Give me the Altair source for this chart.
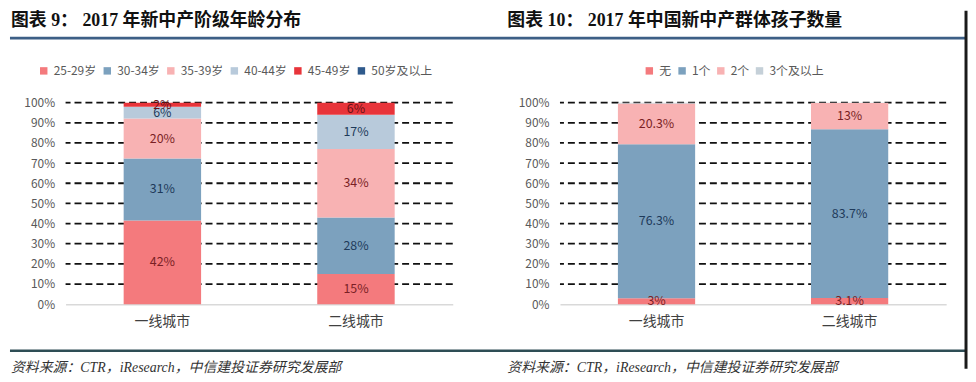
import altair as alt
import pandas as pd

# ---------------- data ----------------
cities = ["一线城市", "二线城市"]

age_groups = ["25-29岁", "30-34岁", "35-39岁", "40-44岁", "45-49岁", "50岁及以上"]
age_tier1 = [42, 31, 20, 6, 2, 0]
age_tier2 = [15, 28, 34, 17, 6, 0]

kid_groups = ["无", "1个", "2个", "3个及以上"]
kid_tier1 = [3, 76.3, 20.3, 0.4]
kid_tier2 = [3.1, 83.7, 13, 0.2]

y_ticks = [0, 0.1, 0.2, 0.3, 0.4, 0.5, 0.6, 0.7, 0.8, 0.9, 1.0]
grid_vals = [0.1, 0.2, 0.3, 0.4, 0.5, 0.6, 0.7, 0.8, 0.9, 1.0]

title_left = "图表 9：  2017 年新中产阶级年龄分布"
title_right = "图表 10：  2017 年中国新中产群体孩子数量"
source_text = "资料来源：CTR，iResearch，中信建投证券研究发展部"

# ---------------- styles ----------------
age_colors = ["#f47a7d", "#7ca1be", "#f8b2b3", "#b8cadb", "#e8343a", "#2f5a8c"]
age_text_colors = ["#7a1f25", "#1e3a5a", "#7a1f25", "#1e3a5a", "#6b1014", "#ffffff"]
kid_colors = ["#f47a7d", "#7ca1be", "#f8b2b3", "#c5d0d8"]
kid_text_colors = ["#7a1f25", "#1e3a5a", "#7a1f25", "#1e3a5a"]

CJK = "'Noto Sans CJK SC', 'Noto Sans', sans-serif"
TITLE_FONT = "'Liberation Serif', 'Noto Sans CJK SC', serif"


def long_df(groups, t1, t2):
    rows = []
    for city, vals in zip(cities, [t1, t2]):
        for i, (g, v) in enumerate(zip(groups, vals)):
            rows.append({"city": city, "series": g, "order": i, "value": v})
    return pd.DataFrame(rows)


def panel(df, groups, colors, tcolors, title, legend_x, title_x, width, col_pad,
          rules=None, border_x=None):
    yaxis = alt.Axis(format=".0%", values=y_ticks, grid=False, domain=False,
                     ticks=False, tickSize=0, labelPadding=11, labelFontSize=12,
                     labelColor="#595959", labelFont=CJK, title=None)
    xaxis = alt.Axis(title=None, domain=True, domainColor="#d9d9d9", domainWidth=1.5,
                     ticks=False, tickSize=0, labelPadding=10, labelFontSize=14,
                     labelColor="#404040", labelAngle=0, labelFont=CJK)
    yscale = alt.Scale(domain=[0, 1], nice=False)
    xscale = alt.Scale(domain=cities, paddingInner=0.6, paddingOuter=0.3)

    stacked = alt.Chart(df).transform_stack(
        stack="value", groupby=["city"], sort=[alt.SortField("order", "ascending")],
        as_=["y0", "y1"], offset="normalize")

    grid = alt.Chart(pd.DataFrame({"g": grid_vals})).mark_rule(
        color="#111111", strokeWidth=1.8, strokeDash=[7, 4]
    ).encode(y=alt.Y("g:Q", scale=yscale, axis=yaxis))

    bars = stacked.mark_bar().encode(
        x=alt.X("city:N", scale=xscale, axis=xaxis, sort=cities),
        y=alt.Y("y0:Q", scale=yscale, axis=yaxis),
        y2="y1:Q",
        color=alt.Color("series:N", scale=alt.Scale(domain=groups, range=colors),
                        legend=alt.Legend(orient="none", legendX=legend_x, legendY=-38,
                                          direction="horizontal", title=None,
                                          symbolType="square", symbolSize=56,
                                          symbolStrokeWidth=0, labelFontSize=12,
                                          labelFont=CJK, labelColor="#595959",
                                          columnPadding=col_pad, labelOffset=4,
                                          padding=0)),
    )

    labels = stacked.transform_calculate(
        mid="(datum.y0 + datum.y1) / 2", label="datum.value + '%'"
    ).transform_filter("datum.value >= 1").mark_text(
        fontSize=12.5, font=CJK, baseline="middle", align="center"
    ).encode(
        x=alt.X("city:N", scale=xscale, axis=xaxis, sort=cities),
        y=alt.Y("mid:Q", scale=yscale, axis=yaxis),
        text="label:N",
        color=alt.Color("series:N", scale=alt.Scale(domain=groups, range=tcolors),
                        legend=None),
    )

    one = pd.DataFrame({"k": [0]})
    title_mark = alt.Chart(one).mark_text(
        text=title, align="left", baseline="middle", font=TITLE_FONT, fontSize=18,
        fontWeight="bold", color="#111111"
    ).encode(x=alt.value(title_x), y=alt.value(-82))
    source = alt.Chart(one).mark_text(
        text=source_text, align="left", baseline="middle", font=TITLE_FONT,
        fontSize=14, fontStyle="italic", color="#333333"
    ).encode(x=alt.value(title_x), y=alt.value(267))

    layers = [grid, bars, labels, title_mark, source]
    if rules is not None:
        x0, x1 = rules
        layers.append(alt.Chart(one).mark_rule(color="#3d5f86", strokeWidth=3).encode(
            x=alt.value(x0), x2=alt.value(x1), y=alt.value(-65)))
        layers.append(alt.Chart(one).mark_rule(color="#2e4d55", strokeWidth=2.5).encode(
            x=alt.value(x0), x2=alt.value(x1), y=alt.value(250)))
    if border_x is not None:
        layers.append(alt.Chart(one).mark_rule(color="#1a1a1a", strokeWidth=3).encode(
            x=alt.value(border_x), y=alt.value(-92.5), y2=alt.value(268)))

    return alt.layer(*layers).resolve_scale(color="independent").properties(
        width=width, height=203)


left = panel(long_df(age_groups, age_tier1, age_tier2), age_groups, age_colors,
             age_text_colors, title_left, legend_x=-28, title_x=-55, width=390,
             col_pad=5, rules=(-56, 907))
right = panel(long_df(kid_groups, kid_tier1, kid_tier2), kid_groups, kid_colors,
              kid_text_colors, title_right, legend_x=84, title_x=-53, width=389,
              col_pad=4, border_x=409)

chart = alt.hconcat(left, right, spacing=108, bounds="flush").properties(
    padding=0, background="white"
).configure_view(stroke=None)

chart.save("out.html", embed_options={"renderer": "svg", "actions": False})
